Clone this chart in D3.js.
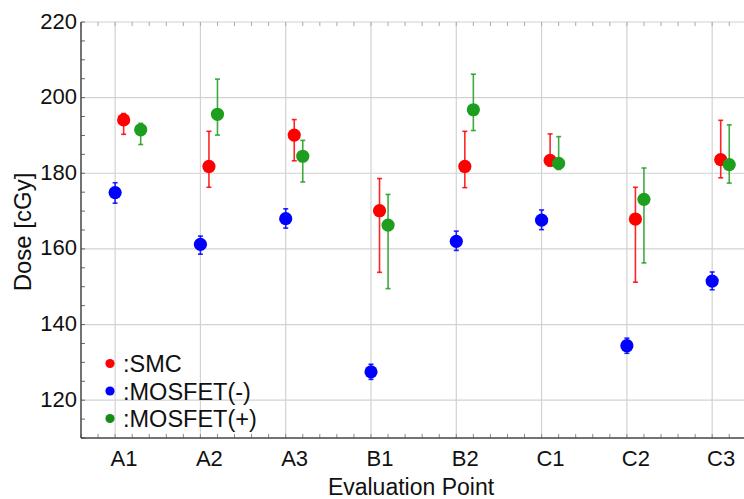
<!DOCTYPE html>
<html>
<head>
<meta charset="utf-8">
<script src="https://cdn.jsdelivr.net/npm/d3@7"></script>
<style>
html, body { margin: 0; padding: 0; background: #fff; }
svg { display: block; font-family: "Liberation Sans", Arial, sans-serif; }
</style>
</head>
<body>
<svg id="chart" width="744" height="499"></svg>
<script>
// ---- data ----
const categories = ["A1", "A2", "A3", "B1", "B2", "C1", "C2", "C3"];
const yTicks = [120, 140, 160, 180, 200, 220];

const smc      = [194.1, 181.8, 190.1, 170.1, 181.8, 183.4, 167.9, 183.6];
const smcHi    = [195.8, 191.1, 194.2, 178.6, 191.1, 190.4, 176.3, 194.0];
const smcLo    = [190.3, 176.3, 183.3, 153.8, 176.2, 181.9, 151.2, 178.8];

const mosMinus   = [174.9, 161.2, 168.0, 127.5, 162.0, 167.6, 134.4, 151.5];
const mosMinusHi = [177.5, 163.4, 170.6, 129.5, 164.7, 170.3, 136.4, 153.9];
const mosMinusLo = [172.1, 158.6, 165.5, 125.5, 159.6, 165.1, 132.4, 149.2];

const mosPlus   = [191.5, 195.6, 184.5, 166.3, 196.8, 182.6, 173.1, 182.3];
const mosPlusHi = [193.2, 204.9, 188.7, 174.4, 206.2, 189.7, 181.4, 192.8];
const mosPlusLo = [187.6, 190.1, 177.7, 149.5, 191.3, 181.0, 156.3, 177.4];

// category dodge (in category units) for each series
const minusDodge = [0, 0, 0, 0, 0, 0, 0, 0];
const smcDodge   = [0.1, 0.1, 0.1, 0.1, 0.1, 0.1, 0.1, 0.1];
const plusDodge  = [0.3, 0.2, 0.2, 0.2, 0.2, 0.2, 0.2, 0.2];

const seriesNames = [":SMC", ":MOSFET(-)", ":MOSFET(+)"];

(function () {
// ---- layout ----
const svg = d3.select("#chart");
const pL = 81, pR = 746.3, pT = 22, pB = 438;
const colors = { smc: "#ff0000", minus: "#0000ff", plus: "#1e9e1e" };

const x = d3.scaleLinear().domain([-0.4, 7.4]).range([pL, pR]);
const y = d3.scaleLinear().domain([110, 220]).range([pB, pT]);

const series = [
  { key: "minus", v: mosMinus, hi: mosMinusHi, lo: mosMinusLo, dodge: minusDodge, color: colors.minus },
  { key: "smc",   v: smc,      hi: smcHi,      lo: smcLo,      dodge: smcDodge,   color: colors.smc },
  { key: "plus",  v: mosPlus,  hi: mosPlusHi,  lo: mosPlusLo,  dodge: plusDodge,  color: colors.plus }
];

svg.append("defs").append("clipPath").attr("id", "clip")
  .append("rect").attr("x", pL).attr("y", pT - 8).attr("width", 744 - pL).attr("height", pB - pT + 8);

// gridlines
const grid = svg.append("g").attr("clip-path", "url(#clip)");
grid.selectAll("line.gy").data(yTicks).join("line")
  .attr("x1", pL).attr("x2", pR)
  .attr("y1", d => y(d)).attr("y2", d => y(d))
  .attr("stroke", "#d2d2d2").attr("stroke-width", 1.2);
grid.selectAll("line.gx").data(d3.range(categories.length)).join("line")
  .attr("x1", d => x(d)).attr("x2", d => x(d))
  .attr("y1", pT).attr("y2", pB)
  .attr("stroke", "#d2d2d2").attr("stroke-width", 1.2);

// minor ticks
const yMinor = d3.range(110, 221, 5);
svg.append("g").selectAll("line").data(yMinor).join("line")
  .attr("x1", pL).attr("x2", pL + 4)
  .attr("y1", d => y(d)).attr("y2", d => y(d))
  .attr("stroke", "#666").attr("stroke-width", 1);
const xMinor = d3.range(-0.4, 7.41, 0.2).filter(d => x(d) < 744);
svg.append("g").selectAll("line").data(xMinor).join("line")
  .attr("x1", d => x(d)).attr("x2", d => x(d))
  .attr("y1", pB).attr("y2", pB - 4)
  .attr("stroke", "#888").attr("stroke-width", 1);
svg.append("g").selectAll("line").data(xMinor).join("line")
  .attr("x1", d => x(d)).attr("x2", d => x(d))
  .attr("y1", pT).attr("y2", pT + 4)
  .attr("stroke", "#aaa").attr("stroke-width", 1);

// axis lines
svg.append("line").attr("x1", pL).attr("x2", pL).attr("y1", pT).attr("y2", pB)
  .attr("stroke", "#444").attr("stroke-width", 1.5);
svg.append("line").attr("x1", pL).attr("x2", 744).attr("y1", pB).attr("y2", pB)
  .attr("stroke", "#444").attr("stroke-width", 1.5);

// y tick labels
svg.append("g").selectAll("text").data(yTicks).join("text")
  .attr("x", pL - 4).attr("y", d => y(d) - 1)
  .attr("text-anchor", "end").attr("dominant-baseline", "central")
  .attr("font-size", 22).attr("fill", "#111")
  .text(d => d);

// x tick labels
svg.append("g").selectAll("text").data(categories).join("text")
  .attr("x", (d, i) => x(i + 0.105)).attr("y", 466)
  .attr("text-anchor", "middle")
  .attr("font-size", 22).attr("fill", "#111")
  .text(d => d);

// axis titles
svg.append("text").attr("x", 411).attr("y", 495)
  .attr("text-anchor", "middle").attr("font-size", 23).attr("fill", "#111")
  .text("Evaluation Point");
svg.append("text")
  .attr("transform", `translate(31, ${(pT + pB) / 2 + 2}) rotate(-90)`)
  .attr("text-anchor", "middle").attr("font-size", 24).attr("fill", "#111")
  .text("Dose [cGy]");

// error bars and markers
const plot = svg.append("g").attr("clip-path", "url(#clip)");
series.forEach(s => {
  const g = plot.append("g");
  const idx = d3.range(categories.length);
  g.selectAll("line.eb").data(idx).join("line")
    .attr("x1", i => x(i + s.dodge[i])).attr("x2", i => x(i + s.dodge[i]))
    .attr("y1", i => y(s.hi[i])).attr("y2", i => y(s.lo[i]))
    .attr("stroke", s.color).attr("stroke-width", 1.6).attr("opacity", 0.85);
  ["hi", "lo"].forEach(k => {
    g.append("g").selectAll("line").data(idx).join("line")
      .attr("x1", i => x(i + s.dodge[i]) - 2.5).attr("x2", i => x(i + s.dodge[i]) + 2.5)
      .attr("y1", i => y(s[k][i])).attr("y2", i => y(s[k][i]))
      .attr("stroke", s.color).attr("stroke-width", 1.6).attr("opacity", 0.85);
  });
  g.append("g").selectAll("circle").data(idx).join("circle")
    .attr("cx", i => x(i + s.dodge[i])).attr("cy", i => y(s.v[i]))
    .attr("r", 6.6).attr("fill", s.color);
});

// legend
const legendColors = [colors.smc, colors.minus, "#168c16"];
const lg = svg.append("g");
seriesNames.forEach((name, i) => {
  lg.append("circle").attr("cx", 110).attr("cy", 363.5 + i * 27.5).attr("r", 4.6).attr("fill", legendColors[i]);
  lg.append("text").attr("x", 123).attr("y", 363.5 + i * 27.5 + 8.5)
    .attr("font-size", 23.5).attr("fill", "#111").text(name);
});
})();
</script>
</body>
</html>
